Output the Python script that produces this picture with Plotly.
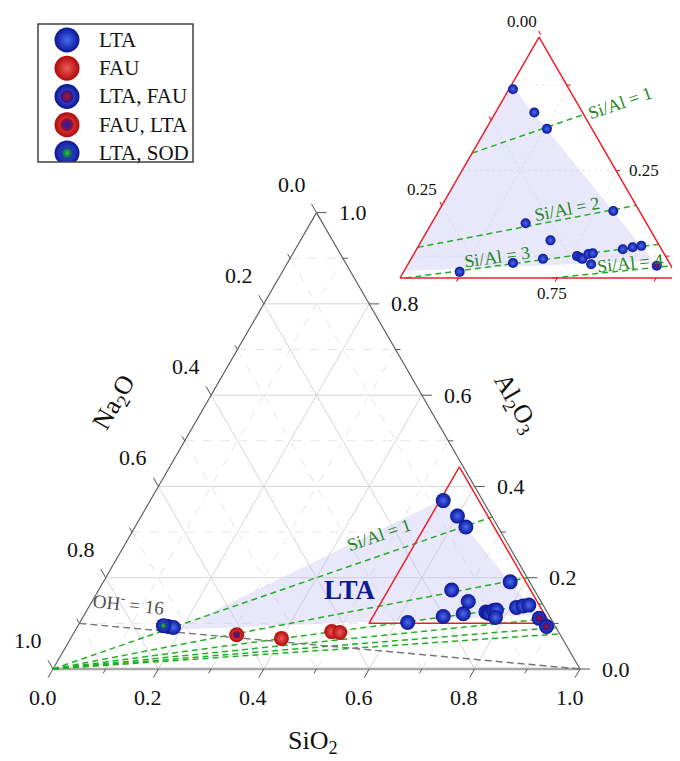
import math
import plotly.graph_objects as go

# ---------------- data: compositions (mole fractions) ----------------
LTA_Al2O3 = [0.369, 0.335, 0.311, 0.191, 0.173, 0.148, 0.121, 0.115, 0.102,
             0.125, 0.123, 0.121, 0.128, 0.129, 0.113, 0.135, 0.138, 0.140,
             0.093, 0.091]
LTA_SiO2 = [0.556, 0.600, 0.628, 0.772, 0.670, 0.714, 0.718, 0.683, 0.622,
            0.759, 0.764, 0.768, 0.772, 0.777, 0.783, 0.812, 0.823, 0.833,
            0.172, 0.183]
LTA_Na2O = [0.075, 0.065, 0.061, 0.037, 0.157, 0.138, 0.161, 0.202, 0.276,
            0.116, 0.113, 0.111, 0.100, 0.094, 0.104, 0.053, 0.039, 0.027,
            0.735, 0.726]

FAU_Al2O3 = [0.067, 0.082, 0.080]
FAU_SiO2 = [0.400, 0.488, 0.504]
FAU_Na2O = [0.533, 0.430, 0.416]

LTA_FAU_Al2O3 = [0.111, 0.093]
LTA_FAU_SiO2 = [0.867, 0.890]
LTA_FAU_Na2O = [0.022, 0.017]

FAU_LTA_Al2O3 = [0.075]
FAU_LTA_SiO2 = [0.311]
FAU_LTA_Na2O = [0.614]

LTA_SOD_Al2O3 = [0.095]
LTA_SOD_SiO2 = [0.162]
LTA_SOD_Na2O = [0.743]

PHASE_NAMES = ["LTA", "FAU", "LTA, FAU", "FAU, LTA", "LTA, SOD"]

# LTA crystallisation field (shaded polygon)
FIELD_Al2O3 = [0.086, 0.372, 0.118]
FIELD_SiO2 = [0.189, 0.554, 0.859]
FIELD_Na2O = [0.725, 0.074, 0.023]

SI_AL_RATIOS = [1, 2, 3, 4, 5, 6]          # Si/Al iso-ratio lines (main)
INSET_SI_AL_LABELS = [1, 2, 3, 4]
OH_LINE_AL2O3_AT_EDGE = 0.10               # OH- = 16 line: Na2O/Al2O3 = 9
MAIN_TICKS = [0.0, 0.2, 0.4, 0.6, 0.8, 1.0]
INSET_TICK_LABELS = ["0.00", "0.25", "0.25", "0.75"]

# ---------------- layout constants ----------------
W, H = 680, 761
OFF = 8                                   # page body margin
FW, FH = W - OFF, H - OFF                 # figure size
S3 = math.sqrt(3) / 2
FONT = "Liberation Serif"
M_OX, M_OY, M_S = 53, 669, 527            # main triangle: Na2O-vertex pixel & px per unit
RED_MIN = (0.100, 0.5496, 0.0074)         # Al, Si, Na lower bounds of red zoom triangle
INS_MIN = (0.093, 0.551, 0.004)           # inset window lower bounds
I_OX, I_OY, I_S = 400, 278, 790           # inset: pixel of its lower-left vertex & px/unit
I_BOX = (385, 680, 0, 300)
LEG_BOX = (38, 193, 24, 162)

BLUE_EDGE, BLUE_CTR = "#0b1596", "#4a6af0"
RED_EDGE, RED_CTR = "#b00a0a", "#f05a5a"
GREEN_LINE, GREEN_TXT = "#22b022", "#1d861d"
RED_LINE = "#e8202a"


def fxp(px):
    return (px - OFF) / FW


def fyp(py):
    return 1 - (py - OFF) / FH


def tern_xy(al, si, na):
    t = al + si + na
    al, si = al / t, si / t
    return si + al / 2, al * S3


def xy_lists(A, S, N):
    pts = [tern_xy(a, s, n) for a, s, n in zip(A, S, N)]
    return [p[0] for p in pts], [p[1] for p in pts]


def pm(px, py):  # pixel -> main data
    return (px - M_OX) / M_S, (M_OY - py) / M_S


I_BX, I_BY = tern_xy(INS_MIN[0], INS_MIN[1], 1 - INS_MIN[0] - INS_MIN[1])


def pi(px, py):  # pixel -> inset data
    return I_BX + (px - I_OX) / I_S, I_BY + (I_OY - py) / I_S


def seg_trace(segs, color, width, dash="solid", xa="x", ya="y"):
    xs, ys = [], []
    for (x0, y0), (x1, y1) in segs:
        xs += [x0, x1, None]
        ys += [y0, y1, None]
    return go.Scatter(x=xs, y=ys, mode="lines", xaxis=xa, yaxis=ya,
                      line=dict(color=color, width=width, dash=dash),
                      hoverinfo="skip", showlegend=False)


def clip_poly(poly, mins):
    for k in range(3):
        out = []
        n = len(poly)
        for i in range(n):
            p, q = poly[i], poly[(i + 1) % n]
            pin, qin = p[k] >= mins[k], q[k] >= mins[k]
            if pin:
                out.append(p)
            if pin != qin:
                t = (mins[k] - p[k]) / (q[k] - p[k])
                out.append(tuple(p[j] + t * (q[j] - p[j]) for j in range(3)))
        poly = out
    return poly


def ratio_point(r, t):
    return (t / (1 + 2 * r), 2 * r * t / (1 + 2 * r), 1 - t)


fig = go.Figure()

# ================= MAIN TERNARY =================
major, minor = [], []
for i in range(1, 10):
    v = i / 10
    s = [(tern_xy(v, 0, 1 - v), tern_xy(v, 1 - v, 0)),
         (tern_xy(1 - v, 0, v), tern_xy(0, 1 - v, v)),
         (tern_xy(0, v, 1 - v), tern_xy(1 - v, v, 0))]
    (major if i % 2 == 0 else minor).extend(s)
fig.add_trace(seg_trace(minor, "#e2e2e2", 0.9, "dash"))
fig.add_trace(seg_trace(major, "#d6d6d6", 1.0))

fx, fy = xy_lists(FIELD_Al2O3, FIELD_SiO2, FIELD_Na2O)
fig.add_trace(go.Scatter(x=fx + [fx[0]], y=fy + [fy[0]], mode="lines", fill="toself",
                         fillcolor="rgba(190,190,240,0.36)", line=dict(width=0),
                         hoverinfo="skip", showlegend=False))

V_NA, V_SI, V_AL = tern_xy(0, 0, 1), tern_xy(0, 1, 0), tern_xy(1, 0, 0)
fig.add_trace(seg_trace([(V_NA, V_SI)], "#a8a8a8", 2.4))
fig.add_trace(seg_trace([(V_NA, V_AL), (V_SI, V_AL)], "#555555", 1.1))

ticks = []
for i in range(11):
    v = i / 10
    L = (10 if i % 2 == 0 else 5) / M_S
    x, y = tern_xy(1 - v, 0, v)
    ticks.append(((x, y), (x - 0.5 * L, y + S3 * L)))
    x, y = tern_xy(0, v, 1 - v)
    ticks.append(((x, y), (x - 0.5 * L, y - S3 * L)))
    x, y = tern_xy(v, 1 - v, 0)
    ticks.append(((x, y), (x + L, y)))
fig.add_trace(seg_trace(ticks, "#555555", 1.0))

fig.add_trace(seg_trace([(tern_xy(*ratio_point(r, 0.0)), tern_xy(*ratio_point(r, 1.0)))
                         for r in SI_AL_RATIOS], GREEN_LINE, 1.5, "6px,4px"))
a = OH_LINE_AL2O3_AT_EDGE
fig.add_trace(seg_trace([(tern_xy(a, 0, 1 - a), V_SI)], "#777777", 1.4, "7px,4px"))

a0, s0, n0 = RED_MIN
r_bl = tern_xy(a0, s0, 1 - a0 - s0)
r_br = tern_xy(a0, 1 - a0 - n0, n0)
r_t = tern_xy(1 - s0 - n0, s0, n0)
fig.add_trace(seg_trace([(r_bl, r_br), (r_br, r_t), (r_t, r_bl)], RED_LINE, 1.5))


def add_points(A, S, N, edge, ctr, size, xa, ya, dot=None, filt=None):
    if filt is not None:
        keep = [k for k in range(len(A)) if filt(A[k], S[k], N[k])]
        A, S, N = [A[k] for k in keep], [S[k] for k in keep], [N[k] for k in keep]
        if not A:
            return
    x, y = xy_lists(A, S, N)
    fig.add_trace(go.Scatter(x=x, y=y, mode="markers", xaxis=xa, yaxis=ya,
                             marker=dict(size=size, color=edge, line=dict(width=0),
                                         gradient=dict(type="radial", color=ctr)),
                             hoverinfo="skip", showlegend=False))
    if dot:
        fig.add_trace(go.Scatter(x=x, y=y, mode="markers", xaxis=xa, yaxis=ya,
                                 marker=dict(size=size * 0.5, color=dot[0], line=dict(width=0),
                                             gradient=dict(type="radial", color=dot[1])),
                                 hoverinfo="skip", showlegend=False))


DOT_LTA_FAU = ("#2a168e", "#b8102a")
DOT_FAU_LTA = ("#a01020", "#1a1ac8")
DOT_LTA_SOD = ("#1528a0", "#22d022")

PHASES = [
    (LTA_Al2O3, LTA_SiO2, LTA_Na2O, BLUE_EDGE, BLUE_CTR, None),
    (FAU_Al2O3, FAU_SiO2, FAU_Na2O, RED_EDGE, RED_CTR, None),
    (LTA_FAU_Al2O3, LTA_FAU_SiO2, LTA_FAU_Na2O, BLUE_EDGE, BLUE_CTR, DOT_LTA_FAU),
    (FAU_LTA_Al2O3, FAU_LTA_SiO2, FAU_LTA_Na2O, RED_EDGE, RED_CTR, DOT_FAU_LTA),
    (LTA_SOD_Al2O3, LTA_SOD_SiO2, LTA_SOD_Na2O, BLUE_EDGE, BLUE_CTR, DOT_LTA_SOD),
]
for A, S, N, e, c, dot in PHASES:
    add_points(A, S, N, e, c, 15, "x", "y", dot)

# ================= INSET =================
ia0, is0, in0 = INS_MIN
imax = 1 - is0 - in0
i_bl = tern_xy(ia0, is0, 1 - ia0 - is0)
i_br = tern_xy(ia0, 1 - ia0 - in0, in0)
i_t = tern_xy(imax, is0, in0)

igrid = []
for v in [0.125, 0.25, 0.375, 0.5, 0.625, 0.75, 0.875]:
    if ia0 < v < imax:
        igrid.append((tern_xy(v, is0, 1 - v - is0), tern_xy(v, 1 - v - in0, in0)))
    if in0 < v < 1 - is0 - ia0:
        igrid.append((tern_xy(ia0, 1 - v - ia0, v), tern_xy(1 - v - is0, is0, v)))
    if is0 < v < 1 - ia0 - in0:
        igrid.append((tern_xy(ia0, v, 1 - v - ia0), tern_xy(1 - v - in0, v, in0)))
fig.add_trace(seg_trace(igrid, "#e6e6e6", 0.9, "dot", "x2", "y2"))

poly = clip_poly(list(zip(FIELD_Al2O3, FIELD_SiO2, FIELD_Na2O)), INS_MIN)
px_, py_ = zip(*[tern_xy(*p) for p in poly])
fig.add_trace(go.Scatter(x=list(px_) + [px_[0]], y=list(py_) + [py_[0]], mode="lines",
                         fill="toself", fillcolor="rgba(190,190,240,0.36)",
                         line=dict(width=0), xaxis="x2", yaxis="y2",
                         hoverinfo="skip", showlegend=False))

ilines = []
for r in INSET_SI_AL_LABELS:
    t0 = max(ia0 * (1 + 2 * r), is0 * (1 + 2 * r) / (2 * r))
    t1 = 1 - in0
    if t0 < t1:
        ilines.append((tern_xy(*ratio_point(r, t0)), tern_xy(*ratio_point(r, t1))))
fig.add_trace(seg_trace(ilines, GREEN_LINE, 1.5, "6px,4px", "x2", "y2"))

fig.add_trace(seg_trace([(i_bl, i_br), (i_br, i_t), (i_t, i_bl)], RED_LINE, 1.5, "solid", "x2", "y2"))

iticks = []
TL = 4 / I_S
for v in [0.0, 0.125, 0.25]:
    x, y = tern_xy(1 - is0 - v, is0, v)
    iticks.append(((x, y), (x - 0.5 * TL, y + S3 * TL)))
for v in [0.125, 0.25, 0.375]:
    x, y = tern_xy(v, 1 - v - in0, in0)
    iticks.append(((x, y), (x + TL, y)))
for v in [0.625, 0.75, 0.875]:
    x, y = tern_xy(ia0, v, 1 - v - ia0)
    iticks.append(((x, y), (x - 0.5 * TL, y - S3 * TL)))
fig.add_trace(seg_trace(iticks, RED_LINE, 1.2, "solid", "x2", "y2"))


def inside(a, s, n):
    return a >= ia0 + 0.002 and s >= is0 + 0.002 and n >= in0


for A, S, N, e, c, dot in PHASES:
    add_points(A, S, N, e, c, 10, "x2", "y2", dot, inside)

# ================= LEGEND (manual) =================
for k, (A, S, N, e, c, dot) in enumerate(PHASES):
    fig.add_trace(go.Scatter(x=[0], y=[k], mode="markers", xaxis="x3", yaxis="y3",
                             marker=dict(size=25, color=e, line=dict(width=0),
                                         gradient=dict(type="radial", color=c)),
                             hoverinfo="skip", showlegend=False))
    if dot:
        fig.add_trace(go.Scatter(x=[0], y=[k], mode="markers", xaxis="x3", yaxis="y3",
                                 marker=dict(size=13, color=dot[0], line=dict(width=0),
                                             gradient=dict(type="radial", color=dot[1])),
                                 hoverinfo="skip", showlegend=False))

# ================= ANNOTATIONS =================
ann = []


def txt(x, y, t, size, ref="", color="#111111", angle=0, xanchor="center", bold=False):
    ann.append(dict(x=x, y=y, text=("<b>%s</b>" % t) if bold else t, showarrow=False,
                    xref="x" + ref, yref="y" + ref, xanchor=xanchor, yanchor="middle",
                    textangle=angle, font=dict(family=FONT, size=size, color=color)))


for v in MAIN_TICKS:
    x, y = tern_xy(1 - v, 0, v)
    txt(x - 25 / M_S, y + 28.5 / M_S, "%.1f" % v, 22)
    x, y = tern_xy(0, v, 1 - v)
    txt(x - 10.5 / M_S, y - 28 / M_S, "%.1f" % v, 22)
    x, y = tern_xy(v, 1 - v, 0)
    txt(x + 20 / M_S, y, "%.1f" % v, 22, xanchor="left")

txt(*pm(313, 742), "SiO<sub>2</sub>", 26)
txt(*pm(115, 403), "Na<sub>2</sub>O", 26, angle=-60)
txt(*pm(515, 403), "Al<sub>2</sub>O<sub>3</sub>", 26, angle=60)
txt(*pm(128, 603), "OH<sup>-</sup> = 16", 19, color="#505050", angle=6)
txt(*pm(379, 535), "Si/Al = 1", 18, color=GREEN_TXT, angle=-19)
txt(*pm(350, 590), "LTA", 27, color="#0c1a90", bold=True)

x, y = i_t
txt(x - 17 / I_S, y + 16 / I_S, INSET_TICK_LABELS[0], 17, "2")
x, y = tern_xy(1 - is0 - 0.25, is0, 0.25)
txt(x - 20 / I_S, y + 16 / I_S, INSET_TICK_LABELS[1], 17, "2")
x, y = tern_xy(0.25, 1 - 0.25 - in0, in0)
txt(x + 11 / I_S, y, INSET_TICK_LABELS[2], 17, "2", xanchor="left")
x, y = tern_xy(ia0, 0.75, 1 - 0.75 - ia0)
txt(x - 5 / I_S, y - 15 / I_S, INSET_TICK_LABELS[3], 17, "2")

INSET_LABEL_PX = [(620, 103, -19), (567, 209, -11), (497, 257, -8), (630, 263, -6)]
for r, (lx, ly, ang) in zip(INSET_SI_AL_LABELS, INSET_LABEL_PX):
    txt(*pi(lx, ly), "Si/Al = %d" % r, 18, "2", color=GREEN_TXT, angle=ang)

for k, name in enumerate(PHASE_NAMES):
    txt(1, k, name, 21, "3", xanchor="left")

# ================= LAYOUT =================
lx0, lx1, ly0, ly1 = LEG_BOX
bx0, bx1, by0, by1 = I_BOX
ax_off = dict(visible=False, showgrid=False, zeroline=False, fixedrange=True)
fig.update_layout(
    width=FW, height=FH, autosize=False,
    margin=dict(l=0, r=0, t=0, b=0),
    paper_bgcolor="white", plot_bgcolor="rgba(0,0,0,0)",
    showlegend=False,
    xaxis=dict(range=[(OFF - M_OX) / M_S, (W - M_OX) / M_S], domain=[0, 1], **ax_off),
    yaxis=dict(range=[(M_OY - H) / M_S, (M_OY - OFF) / M_S], domain=[0, 1], **ax_off),
    xaxis2=dict(range=[pi(bx0, 0)[0], pi(bx1, 0)[0]], domain=[fxp(bx0), fxp(bx1)],
                anchor="y2", **ax_off),
    yaxis2=dict(range=[pi(0, by1)[1], pi(0, max(by0, OFF))[1]], domain=[fyp(by1), fyp(max(by0, OFF))],
                anchor="x2", **ax_off),
    xaxis3=dict(range=[(lx0 - 67) / 30, (lx1 - 67) / 30], domain=[fxp(lx0), fxp(lx1)],
                anchor="y3", **ax_off),
    yaxis3=dict(range=[(ly1 - 40) / 28.25, (ly0 - 40) / 28.25], domain=[fyp(ly1), fyp(ly0)],
                anchor="x3", **ax_off),
    annotations=ann,
    shapes=[dict(type="rect", xref="paper", yref="paper",
                 x0=fxp(lx0), x1=fxp(lx1), y0=fyp(ly1), y1=fyp(ly0),
                 line=dict(color="#404040", width=1.5), fillcolor="rgba(0,0,0,0)")],
)

fig.write_html("out.html")
